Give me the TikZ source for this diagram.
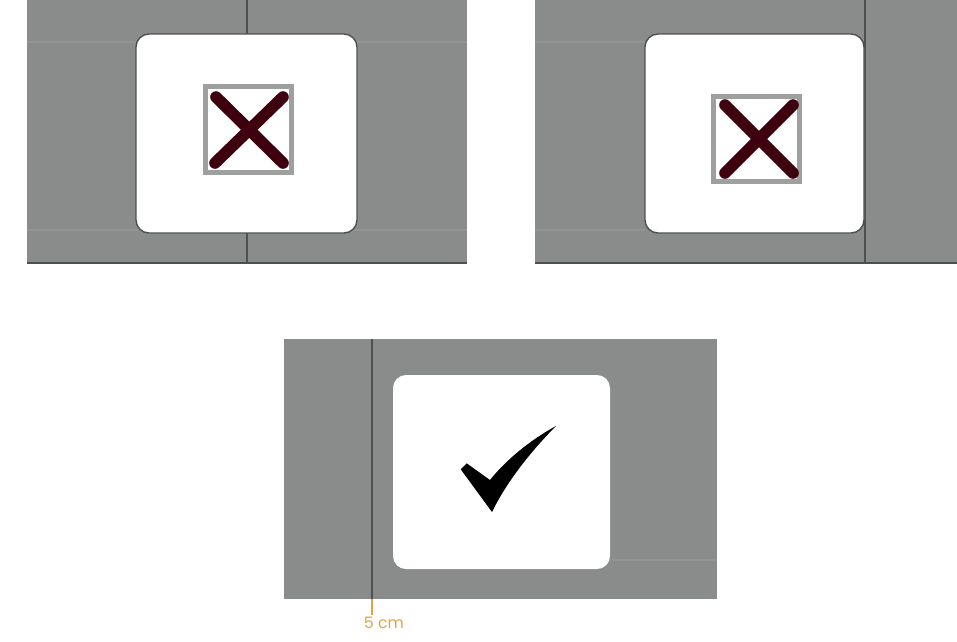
\documentclass[tikz,border=0pt]{standalone}
\usepackage{fontspec}
\usepackage{xcolor}
\newfontfamily\rulerfont{Poppins}
\definecolor{panelgray}{RGB}{138,140,140}
\definecolor{seamgray}{RGB}{146,148,148}
\definecolor{linegray}{RGB}{78,80,82}
\definecolor{framegray}{RGB}{158,160,160}
\definecolor{crossred}{RGB}{62,0,14}
\definecolor{rulerorange}{RGB}{228,164,70}
\tikzset{
  card/.style={fill=white,draw=linegray,line width=0.4pt,rounded corners=1.3mm},
  iconframe/.style={draw=framegray,line width=1.4pt},
  cross/.style={draw=crossred,line width=3.3pt,line cap=round},
  seam/.style={draw=seamgray,line width=0.6pt},
}

\begin{document}
\begin{tikzpicture}[x=0.01cm,y=-0.01cm]
  \useasboundingbox (0,0) rectangle (957,641);
  % left panel: card centred on the line
  \fill[panelgray] (27,0) rectangle (467,263);
  \draw[seam] (27,42) -- (467,42);
  \draw[seam] (27,230) -- (467,230);
  \draw[linegray,line width=0.45pt] (247,0) -- (247,263);
  \draw[linegray,line width=0.6pt] (27,263) -- (467,263);
  \draw[card] (136,34) rectangle (357,233);
  \draw[iconframe] (205.5,86.5) rectangle (291.5,172.5);
  \draw[cross] (216,97) -- (283,163);
  \draw[cross] (283,97) -- (215,163);
  % right panel: card against the line
  \fill[panelgray] (535,0) rectangle (957,263);
  \draw[seam] (535,42) -- (645,42);
  \draw[seam] (535,230) -- (645,230);
  \draw[linegray,line width=0.45pt] (865,0) -- (865,263);
  \draw[linegray,line width=0.6pt] (535,263) -- (957,263);
  \draw[card] (645,34) rectangle (864,233);
  \draw[iconframe] (713.5,96.5) rectangle (799.5,181.5);
  \draw[cross] (725,105) -- (793,173);
  \draw[cross] (793,105) -- (725,173);
  % bottom panel: correct placement
  \fill[panelgray] (284,339) rectangle (717,599);
  \draw[seam] (610,560) -- (717,560);
  \coordinate (ruletop) at (372,339);
  \coordinate (rulefoot) at (372,599);
  \draw[linegray,line width=0.45pt] (ruletop) -- (rulefoot);
  \fill[white,rounded corners=1.3mm] (393,375) rectangle (610,569);
  \fill[black] (460.7,469.3) -- (466.7,463.3) -- (490,480)
    .. controls (505,461) and (530,440) .. (556,426)
    .. controls (540,442) and (510,475) .. (492,512) -- cycle;
  \node[rulerorange,font=\rulerfont\fontsize{4.5}{5.5}\selectfont,inner sep=0.5pt] (sizelabel) at (384,623) {5 cm};
  \draw[rulerorange,line width=0.4pt] (rulefoot) -- (rulefoot |- sizelabel.north);
\end{tikzpicture}
\end{document}
